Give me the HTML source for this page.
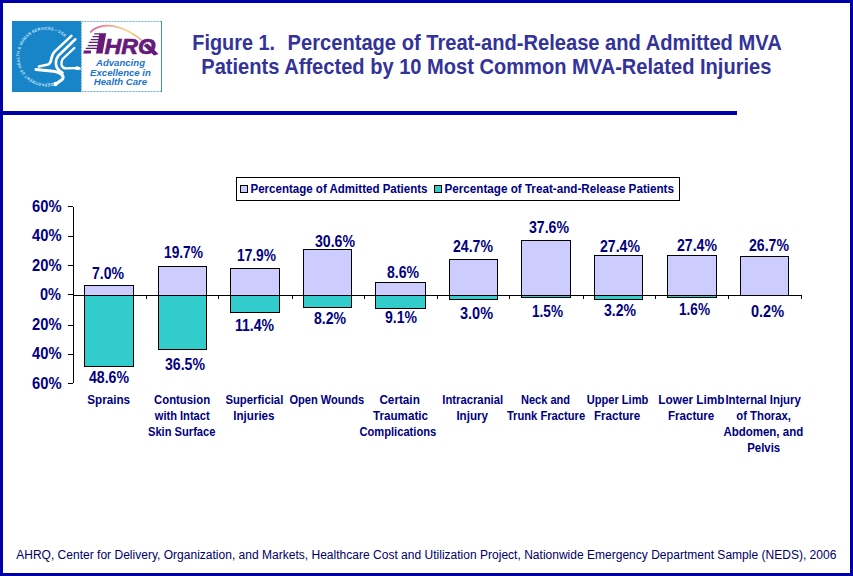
<!DOCTYPE html>
<html><head><meta charset="utf-8"><style>
html,body{margin:0;padding:0;background:#fff;}
body{width:853px;height:576px;overflow:hidden;position:relative;font-family:"Liberation Sans",sans-serif;}
.frame{position:absolute;left:0;top:0;width:847px;height:570px;border:3px solid #0000a8;}
.hr{position:absolute;left:0;top:111px;width:737px;height:4px;background:#0000a8;}
svg text{font-family:"Liberation Sans",sans-serif;}
.lb{font-weight:bold;font-size:16px;fill:#000080;}
.cl{font-weight:bold;font-size:12px;fill:#000080;}
.tt{font-weight:bold;font-size:21.8px;fill:#333399;}
.ft{font-size:12px;fill:#000066;}
.lg{font-weight:bold;font-size:13.2px;fill:#000080;}
</style></head><body>
<div class="frame"></div>
<div class="hr"></div>
<svg width="152" height="72" viewBox="0 0 152 72" style="position:absolute;left:12px;top:21px">
<defs>
<path id="ring" d="M40.7,61.6 A26.8,26.8 0 1 1 52.5,16.0"/>
<linearGradient id="rb" x1="78" y1="0" x2="135" y2="0" gradientUnits="userSpaceOnUse">
<stop offset="0" stop-color="#e8609c"/><stop offset="0.35" stop-color="#f49a82"/><stop offset="0.7" stop-color="#f8cf78"/><stop offset="1" stop-color="#f08c8c"/>
</linearGradient>
</defs>
<rect x="0" y="0" width="69" height="71" fill="#1785c8"/>
<text font-family="Liberation Sans" font-weight="bold" font-size="4.3" fill="#c4e2f6" letter-spacing="0.2"><textPath href="#ring" textLength="110.9" lengthAdjust="spacingAndGlyphs">DEPARTMENT OF HEALTH &amp; HUMAN SERVICES &#8226; USA</textPath></text>
<g fill="none" stroke="#fff" stroke-linecap="round" stroke-linejoin="round">
<path d="M59.4,14.9 L42.9,30.4 Q39.8,33.5 39.2,38.5 Q38.8,42 36,43.6 L26.9,45.5" stroke-width="2.6"/>
<path d="M63.3,18.3 L46.3,34.8 Q43.6,38 43.9,43 Q44.4,47.5 47.5,49.6 L50.5,51.8" stroke-width="2.6"/>
<path d="M62.3,27 L50.6,38 Q48.8,41 49.6,44.5 Q50.8,47.4 54,47.4 L64,47 Q66,46.6 67.7,47.6" stroke-width="2.4"/>
<path d="M23.9,48.4 L41.4,50.2 Q48,51.2 50.6,54.5 Q52,57.5 49.6,59 L43.5,63.2" stroke-width="3"/>
</g>
<circle cx="43.5" cy="63" r="2.2" fill="#fff"/>
<path d="M63,45.8 Q66.5,45.2 68,46.5 L68,48.6 Q65,49.4 63,48.6 Z" fill="#fff"/>
<rect x="69.5" y="0.5" width="80" height="70" fill="#fff" stroke="#6aaee0" stroke-width="1" stroke-dasharray="2,1"/>
<line x1="149.5" y1="0" x2="149.5" y2="71" stroke="#3d8fd6" stroke-width="1"/>
<path d="M78,11.5 C88,1 110,1 134,23" fill="none" stroke="url(#rb)" stroke-width="1.6"/>
<g fill="#661a7a">
<polygon points="87.4,12.2 94.2,12.2 90.6,32.5 84,32.5"/>
<polygon points="82.4,12.2 88,12.2 87.8,13.6 82.1,13.6"/>
<polygon points="80.6,15.1 87.5,15.1 87.3,16.3 80.3,16.3"/>
<polygon points="78.8,18 87,18 86.8,19.2 78.5,19.2"/>
<polygon points="77,20.8 86.5,20.8 86.3,22.1 76.7,22.1"/>
<polygon points="75.9,23.9 86,23.9 85.8,25.3 75.6,25.3"/>
<polygon points="73.9,26.8 85.5,26.8 85.3,28 73.6,28"/>
<polygon points="72,29.6 79.2,29.6 78.8,32.5 71.2,32.5"/>
<text x="92.4" y="32.6" font-family="Liberation Sans" font-weight="bold" font-style="italic" font-size="21.5" stroke="#661a7a" stroke-width="0.7" textLength="33.5" lengthAdjust="spacingAndGlyphs">HR</text>
<text x="126" y="32.6" font-family="Liberation Sans" font-weight="bold" font-style="italic" font-size="21.5" stroke="#661a7a" stroke-width="0.7" textLength="17.5" lengthAdjust="spacingAndGlyphs">O</text>
<polygon points="131.5,24.5 135.5,22.5 146.5,33 142,34.6"/>
</g>
<g fill="#1d74c8" font-family="Liberation Sans" font-weight="bold" font-style="italic" font-size="9.6" text-anchor="middle">
<text x="108.5" y="45">Advancing</text>
<text x="108.5" y="54.7">Excellence in</text>
<text x="108.5" y="64.4">Health Care</text>
</g>
</svg>

<svg width="853" height="576" style="position:absolute;left:0;top:0">
<line x1="73.5" y1="207" x2="73.5" y2="383" stroke="#000" stroke-width="1"/>
<line x1="68" y1="206.5" x2="73" y2="206.5" stroke="#000" stroke-width="1"/>
<line x1="68" y1="236.5" x2="73" y2="236.5" stroke="#000" stroke-width="1"/>
<line x1="68" y1="265.5" x2="73" y2="265.5" stroke="#000" stroke-width="1"/>
<line x1="68" y1="294.5" x2="73" y2="294.5" stroke="#000" stroke-width="1"/>
<line x1="68" y1="325.5" x2="73" y2="325.5" stroke="#000" stroke-width="1"/>
<line x1="68" y1="354.5" x2="73" y2="354.5" stroke="#000" stroke-width="1"/>
<line x1="68" y1="383.5" x2="73" y2="383.5" stroke="#000" stroke-width="1"/>
<text x="32.00" y="212.00" class="lb" textLength="29.50" lengthAdjust="spacingAndGlyphs">60%</text>
<text x="32.00" y="241.00" class="lb" textLength="29.50" lengthAdjust="spacingAndGlyphs">40%</text>
<text x="32.00" y="271.00" class="lb" textLength="29.50" lengthAdjust="spacingAndGlyphs">20%</text>
<text x="40.00" y="300.00" class="lb" textLength="21.00" lengthAdjust="spacingAndGlyphs">0%</text>
<text x="32.00" y="330.00" class="lb" textLength="29.50" lengthAdjust="spacingAndGlyphs">20%</text>
<text x="32.00" y="359.00" class="lb" textLength="29.50" lengthAdjust="spacingAndGlyphs">40%</text>
<text x="32.00" y="389.00" class="lb" textLength="29.50" lengthAdjust="spacingAndGlyphs">60%</text>
<rect x="84.5" y="285.5" width="49" height="10" fill="#ccccff" stroke="#000" stroke-width="1"/>
<rect x="84.5" y="295.5" width="49" height="71" fill="#33cccc" stroke="#000" stroke-width="1"/>
<rect x="158.5" y="266.5" width="48" height="29" fill="#ccccff" stroke="#000" stroke-width="1"/>
<rect x="158.5" y="295.5" width="48" height="54" fill="#33cccc" stroke="#000" stroke-width="1"/>
<rect x="230.5" y="268.5" width="49" height="27" fill="#ccccff" stroke="#000" stroke-width="1"/>
<rect x="230.5" y="295.5" width="49" height="17" fill="#33cccc" stroke="#000" stroke-width="1"/>
<rect x="303.5" y="249.5" width="48" height="46" fill="#ccccff" stroke="#000" stroke-width="1"/>
<rect x="303.5" y="295.5" width="48" height="12" fill="#33cccc" stroke="#000" stroke-width="1"/>
<rect x="375.5" y="282.5" width="50" height="13" fill="#ccccff" stroke="#000" stroke-width="1"/>
<rect x="375.5" y="295.5" width="50" height="13" fill="#33cccc" stroke="#000" stroke-width="1"/>
<rect x="449.5" y="259.5" width="48" height="36" fill="#ccccff" stroke="#000" stroke-width="1"/>
<rect x="449.5" y="295.5" width="48" height="4" fill="#33cccc" stroke="#000" stroke-width="1"/>
<rect x="521.5" y="240.5" width="49" height="55" fill="#ccccff" stroke="#000" stroke-width="1"/>
<rect x="521.5" y="295.5" width="49" height="2" fill="#33cccc" stroke="#000" stroke-width="1"/>
<rect x="594.5" y="255.5" width="48" height="40" fill="#ccccff" stroke="#000" stroke-width="1"/>
<rect x="594.5" y="295.5" width="48" height="4" fill="#33cccc" stroke="#000" stroke-width="1"/>
<rect x="667.5" y="255.5" width="49" height="40" fill="#ccccff" stroke="#000" stroke-width="1"/>
<rect x="667.5" y="295.5" width="49" height="2" fill="#33cccc" stroke="#000" stroke-width="1"/>
<rect x="740.5" y="256.5" width="48" height="39" fill="#ccccff" stroke="#000" stroke-width="1"/>
<line x1="73.5" y1="295.5" x2="802" y2="295.5" stroke="#000" stroke-width="1"/>
<line x1="146.5" y1="295" x2="146.5" y2="299" stroke="#000" stroke-width="1"/>
<line x1="218.5" y1="295" x2="218.5" y2="299" stroke="#000" stroke-width="1"/>
<line x1="292.5" y1="295" x2="292.5" y2="299" stroke="#000" stroke-width="1"/>
<line x1="364.5" y1="295" x2="364.5" y2="299" stroke="#000" stroke-width="1"/>
<line x1="437.5" y1="295" x2="437.5" y2="299" stroke="#000" stroke-width="1"/>
<line x1="509.5" y1="295" x2="509.5" y2="299" stroke="#000" stroke-width="1"/>
<line x1="583.5" y1="295" x2="583.5" y2="299" stroke="#000" stroke-width="1"/>
<line x1="655.5" y1="295" x2="655.5" y2="299" stroke="#000" stroke-width="1"/>
<line x1="728.5" y1="295" x2="728.5" y2="299" stroke="#000" stroke-width="1"/>
<line x1="801.5" y1="295" x2="801.5" y2="299" stroke="#000" stroke-width="1"/>
<text x="92.00" y="279.00" class="lb" textLength="32.00" lengthAdjust="spacingAndGlyphs">7.0%</text>
<text x="164.00" y="258.00" class="lb" textLength="39.00" lengthAdjust="spacingAndGlyphs">19.7%</text>
<text x="237.00" y="261.00" class="lb" textLength="39.00" lengthAdjust="spacingAndGlyphs">17.9%</text>
<text x="315.00" y="247.00" class="lb" textLength="40.00" lengthAdjust="spacingAndGlyphs">30.6%</text>
<text x="387.00" y="278.00" class="lb" textLength="32.00" lengthAdjust="spacingAndGlyphs">8.6%</text>
<text x="453.00" y="252.00" class="lb" textLength="40.00" lengthAdjust="spacingAndGlyphs">24.7%</text>
<text x="529.00" y="233.00" class="lb" textLength="40.00" lengthAdjust="spacingAndGlyphs">37.6%</text>
<text x="600.00" y="252.00" class="lb" textLength="40.00" lengthAdjust="spacingAndGlyphs">27.4%</text>
<text x="677.00" y="251.00" class="lb" textLength="40.00" lengthAdjust="spacingAndGlyphs">27.4%</text>
<text x="749.00" y="251.00" class="lb" textLength="40.00" lengthAdjust="spacingAndGlyphs">26.7%</text>
<text x="89.00" y="383.00" class="lb" textLength="40.00" lengthAdjust="spacingAndGlyphs">48.6%</text>
<text x="165.00" y="370.00" class="lb" textLength="40.00" lengthAdjust="spacingAndGlyphs">36.5%</text>
<text x="235.00" y="331.00" class="lb" textLength="39.00" lengthAdjust="spacingAndGlyphs">11.4%</text>
<text x="314.00" y="324.00" class="lb" textLength="32.00" lengthAdjust="spacingAndGlyphs">8.2%</text>
<text x="385.00" y="323.00" class="lb" textLength="32.00" lengthAdjust="spacingAndGlyphs">9.1%</text>
<text x="460.00" y="319.00" class="lb" textLength="33.00" lengthAdjust="spacingAndGlyphs">3.0%</text>
<text x="532.00" y="317.00" class="lb" textLength="31.00" lengthAdjust="spacingAndGlyphs">1.5%</text>
<text x="604.00" y="316.00" class="lb" textLength="32.00" lengthAdjust="spacingAndGlyphs">3.2%</text>
<text x="679.00" y="315.00" class="lb" textLength="31.00" lengthAdjust="spacingAndGlyphs">1.6%</text>
<text x="751.00" y="317.00" class="lb" textLength="33.00" lengthAdjust="spacingAndGlyphs">0.2%</text>
<text x="87.30" y="404.00" class="cl" textLength="42.80" lengthAdjust="spacingAndGlyphs">Sprains</text>
<text x="154.00" y="404.00" class="cl" textLength="56.10" lengthAdjust="spacingAndGlyphs">Contusion</text>
<text x="154.80" y="420.00" class="cl" textLength="54.80" lengthAdjust="spacingAndGlyphs">with Intact</text>
<text x="148.00" y="436.00" class="cl" textLength="67.40" lengthAdjust="spacingAndGlyphs">Skin Surface</text>
<text x="225.40" y="404.00" class="cl" textLength="57.90" lengthAdjust="spacingAndGlyphs">Superficial</text>
<text x="233.30" y="420.00" class="cl" textLength="41.20" lengthAdjust="spacingAndGlyphs">Injuries</text>
<text x="289.40" y="404.00" class="cl" textLength="74.90" lengthAdjust="spacingAndGlyphs">Open Wounds</text>
<text x="379.40" y="404.00" class="cl" textLength="40.40" lengthAdjust="spacingAndGlyphs">Certain</text>
<text x="373.00" y="420.00" class="cl" textLength="55.00" lengthAdjust="spacingAndGlyphs">Traumatic</text>
<text x="359.40" y="436.00" class="cl" textLength="76.90" lengthAdjust="spacingAndGlyphs">Complications</text>
<text x="442.25" y="404.00" class="cl" textLength="60.85" lengthAdjust="spacingAndGlyphs">Intracranial</text>
<text x="456.40" y="420.00" class="cl" textLength="31.60" lengthAdjust="spacingAndGlyphs">Injury</text>
<text x="521.00" y="404.00" class="cl" textLength="49.00" lengthAdjust="spacingAndGlyphs">Neck and</text>
<text x="506.90" y="420.00" class="cl" textLength="78.30" lengthAdjust="spacingAndGlyphs">Trunk Fracture</text>
<text x="586.70" y="404.00" class="cl" textLength="61.60" lengthAdjust="spacingAndGlyphs">Upper Limb</text>
<text x="594.00" y="420.00" class="cl" textLength="46.30" lengthAdjust="spacingAndGlyphs">Fracture</text>
<text x="658.30" y="404.00" class="cl" textLength="66.20" lengthAdjust="spacingAndGlyphs">Lower Limb</text>
<text x="668.00" y="420.00" class="cl" textLength="46.30" lengthAdjust="spacingAndGlyphs">Fracture</text>
<text x="725.40" y="404.00" class="cl" textLength="75.50" lengthAdjust="spacingAndGlyphs">Internal Injury</text>
<text x="736.30" y="420.00" class="cl" textLength="54.70" lengthAdjust="spacingAndGlyphs">of Thorax,</text>
<text x="723.40" y="436.00" class="cl" textLength="79.80" lengthAdjust="spacingAndGlyphs">Abdomen, and</text>
<text x="747.20" y="452.00" class="cl" textLength="33.00" lengthAdjust="spacingAndGlyphs">Pelvis</text>
<rect x="236.5" y="177.5" width="443" height="23" fill="#fff" stroke="#000" stroke-width="1"/>
<rect x="240.5" y="185.5" width="7" height="7" fill="#ccccff" stroke="#000" stroke-width="1"/>
<rect x="434.5" y="185.5" width="7" height="7" fill="#33cccc" stroke="#000" stroke-width="1"/>
<text x="250.5" y="192.6" class="lg" textLength="177" lengthAdjust="spacingAndGlyphs">Percentage of Admitted Patients</text>
<text x="444.5" y="192.6" class="lg" textLength="229.5" lengthAdjust="spacingAndGlyphs">Percentage of Treat-and-Release Patients</text>
<text x="192.30" y="50.00" class="tt" textLength="82.70" lengthAdjust="spacingAndGlyphs">Figure 1.</text>
<text x="287.60" y="50.00" class="tt" textLength="494.10" lengthAdjust="spacingAndGlyphs">Percentage of Treat-and-Release and Admitted MVA</text>
<text x="201.30" y="74.00" class="tt" textLength="570.10" lengthAdjust="spacingAndGlyphs">Patients Affected by 10 Most Common MVA-Related Injuries</text>
<text x="16.2" y="559" class="ft" letter-spacing="0.014">AHRQ, Center for Delivery, Organization, and Markets, Healthcare Cost and Utilization Project, Nationwide Emergency Department Sample (NEDS), 2006</text>
</svg>
</body></html>
